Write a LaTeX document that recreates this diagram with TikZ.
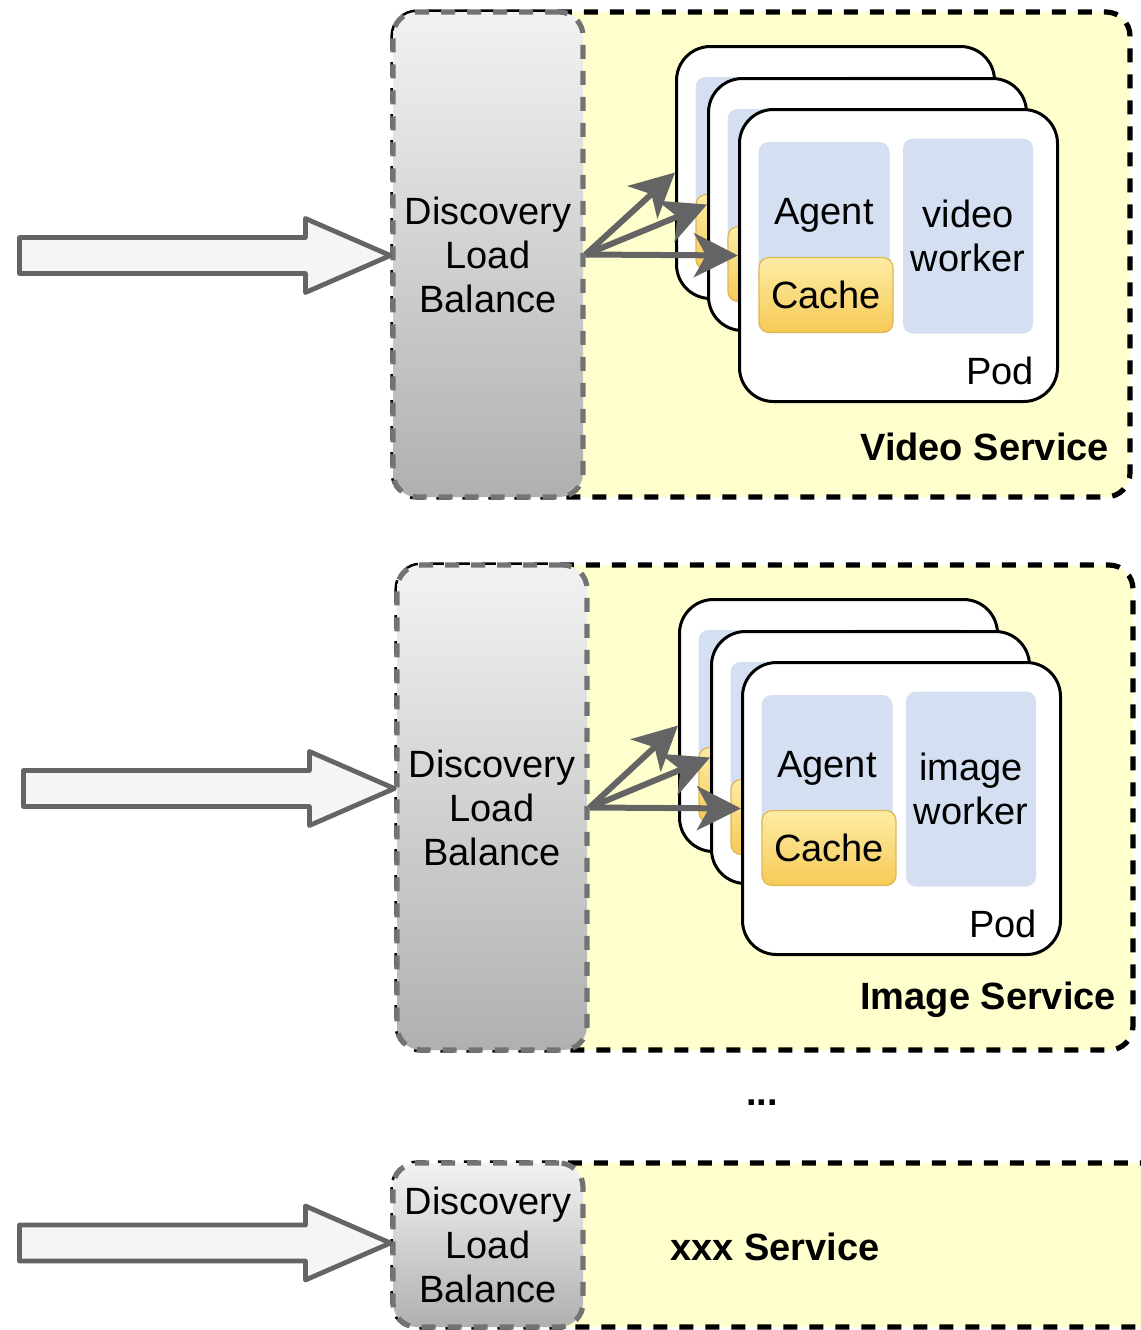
\documentclass[tikz,border=0pt]{standalone}
\usepackage{fontspec}
\setmainfont{Liberation Sans}
\usetikzlibrary{positioning, arrows.meta, calc}

\definecolor{svcyellow}{RGB}{255,255,206}
\definecolor{agentblue}{RGB}{212,224,242}
\definecolor{cachetop}{RGB}{253,236,165}
\definecolor{cachebot}{RGB}{246,202,86}
\definecolor{cacheline}{RGB}{222,182,86}
\definecolor{arrowgray}{RGB}{100,100,100}

\begin{document}
\begin{tikzpicture}[x=0.5pt, y=-0.5pt,
    every node/.style={font=\fontsize{19}{22}\selectfont},
    service/.style={fill=svcyellow, draw=black, line width=2.6pt, dash pattern=on 7pt off 6pt, rounded corners=12pt},
    lb/.style={draw=black!55, line width=2.6pt, dash pattern=on 7pt off 6pt, rounded corners=12pt,
        top color=gray!10, bottom color=gray!62, align=center, minimum width=95pt, inner sep=2pt},
    inarrow/.style={fill=gray!8, draw=arrowgray, line width=2.4pt, line join=round},
    pod/.style={draw=black, line width=1.5pt, fill=white, rounded corners=17pt, minimum width=159pt, anchor=north west},
    agent/.style={fill=agentblue, rounded corners=5pt, minimum width=65.5pt, minimum height=73pt},
    worker/.style={fill=agentblue, rounded corners=5pt, minimum width=65pt, minimum height=97.5pt, align=center},
    cache/.style={draw=cacheline, line width=0.6pt, top color=cachetop, bottom color=cachebot, rounded corners=5pt,
        minimum width=67pt, minimum height=37.5pt},
    lbarrow/.style={draw=arrowgray, line width=3pt, -{Stealth[length=22pt, width=22pt, inset=6pt]}},
    title/.style={font=\fontsize{19}{22}\selectfont\bfseries}]

    \useasboundingbox (0,0) rectangle (1141,1330);
    \clip (0,0) rectangle (1141,1330);

    % video service
    \draw[service] (393,12) rectangle (1130,497);
    \node[lb, minimum height=242.5pt] (lbV) at (488,254.5) {Discovery\\Load\\Balance};
    \foreach \i/\x/\y in {1/675/45, 2/707/77} {
        \node[pod, minimum height=126pt] (podV\i) at (\x,\y) {};
        \node[agent] (agentV\i) at ([shift={(86,105)}]podV\i.north west) {};
        \node[cache] (cacheV\i) at ([shift={(88,187)}]podV\i.north west) {};
        \node[worker] (workerV\i) at ([shift={(230,129)}]podV\i.north west) {};
    }
    \node[pod, minimum height=146pt] (podV3) at (738,108) {};
    \node[agent] (agentV3) at ([shift={(86,107)}]podV3.north west) {Agent};
    \node[cache] (cacheV3) at ([shift={(88,187)}]podV3.north west) {Cache};
    \node[worker] (workerV3) at ([shift={(230,128)}]podV3.north west) {video\\worker};
    \node[anchor=south east] (labelV3) at ([shift={(-18,-11)}]podV3.south east) {Pod};
    \node[title, anchor=east] (titleV) at (1116,447) {Video Service};
    \coordinate (tipV) at ([shift={(0,1)}]lbV.west);
    \draw[inarrow] (tipV) -- ++(-85,-37) -- ++(0,19) -- ++(-286,0) -- ++(0,36) -- ++(286,0) -- ++(0,19) -- cycle;
    \foreach \i in {1,2,3}
        \draw[lbarrow] (lbV.east) -- (podV\i.west);

    % image service
    \draw[service] (397,565) rectangle (1133,1050);
    \node[lb, minimum height=242.5pt] (lbI) at (492,807.5) {Discovery\\Load\\Balance};
    \foreach \i/\x/\y in {1/678/598, 2/710/630} {
        \node[pod, minimum height=126pt] (podI\i) at (\x,\y) {};
        \node[agent] (agentI\i) at ([shift={(86,105)}]podI\i.north west) {};
        \node[cache] (cacheI\i) at ([shift={(88,187)}]podI\i.north west) {};
        \node[worker] (workerI\i) at ([shift={(230,129)}]podI\i.north west) {};
    }
    \node[pod, minimum height=146pt] (podI3) at (741,661) {};
    \node[agent] (agentI3) at ([shift={(86,107)}]podI3.north west) {Agent};
    \node[cache] (cacheI3) at ([shift={(88,187)}]podI3.north west) {Cache};
    \node[worker] (workerI3) at ([shift={(230,128)}]podI3.north west) {image\\worker};
    \node[anchor=south east] (labelI3) at ([shift={(-18,-11)}]podI3.south east) {Pod};
    \node[title, anchor=east] (titleI) at (1123,1000) {Image Service};
    \coordinate (tipI) at ([shift={(0,-19)}]lbI.west);
    \draw[inarrow] (tipI) -- ++(-85,-37) -- ++(0,19) -- ++(-286,0) -- ++(0,36) -- ++(286,0) -- ++(0,19) -- cycle;
    \foreach \i in {1,2,3}
        \draw[lbarrow] (lbI.east) -- (podI\i.west);

    \node[title] (dots) at (762,1103) {...};

    % xxx service
    \draw[service] (393,1163) rectangle (1170,1327);
    \node[lb, minimum height=82pt] (lbX) at (488,1245) {Discovery\\Load\\Balance};
    \node[title] (titleX) at (775,1247) {xxx Service};
    \coordinate (tipX) at ([shift={(0,-2)}]lbX.west);
    \draw[inarrow] (tipX) -- ++(-85,-37) -- ++(0,19) -- ++(-286,0) -- ++(0,36) -- ++(286,0) -- ++(0,19) -- cycle;
\end{tikzpicture}
\end{document}
